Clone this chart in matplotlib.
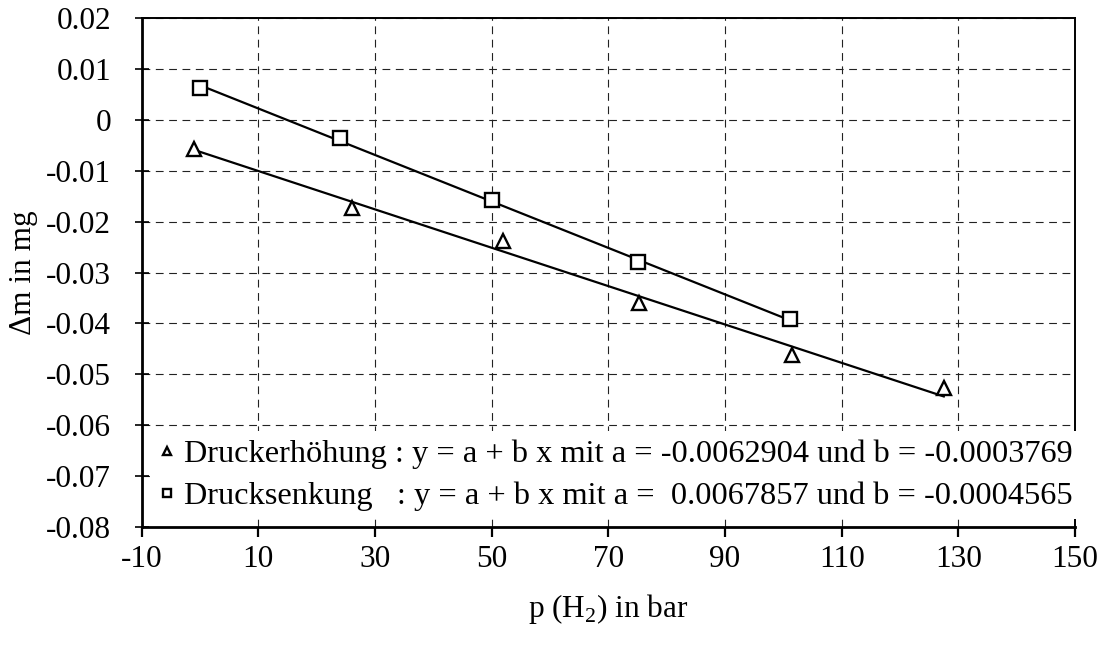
import numpy as np
import matplotlib
matplotlib.use('Agg')
from matplotlib import pyplot as plt

plt.rcParams['font.family'] = ['Liberation Serif', 'DejaVu Serif']
plt.rcParams['mathtext.fontset'] = 'custom'
plt.rcParams['mathtext.rm'] = 'Liberation Serif'

p_hoch = [-1.0, 26.0, 52.0, 75.3, 101.4, 127.5]
dm_hoch = [-0.0058, -0.0173, -0.0239, -0.0360, -0.0463, -0.0527]
p_senk = [0.0, 24.0, 50.0, 75.0, 101.2]
dm_senk = [0.0063, -0.0035, -0.0157, -0.0280, -0.0392]

# fit parameters from the legend
a_hoch, b_hoch = -0.0062904, -0.0003769
a_senk, b_senk = 0.0067857, -0.0004565

xticks = [-10, 10, 30, 50, 70, 90, 110, 130, 150]
yticks = [0.02, 0.01, 0, -0.01, -0.02, -0.03, -0.04, -0.05, -0.06, -0.07, -0.08]
ytick_labels = ['0.02', '0.01', '0', '-0.01', '-0.02', '-0.03', '-0.04',
                '-0.05', '-0.06', '-0.07', '-0.08']

fig = plt.figure(figsize=(11.01, 6.5), dpi=100)
ax = fig.add_axes([0.1287, 0.1892, 0.9764 - 0.1287, 0.9723 - 0.1892])

# fit lines over the measured range
xh = np.array([min(p_hoch), max(p_hoch)])
xs = np.array([min(p_senk), max(p_senk)])
ax.plot(xh, a_hoch + b_hoch * xh, color='black', lw=1.6, zorder=3)
ax.plot(xs, a_senk + b_senk * xs, color='black', lw=1.6, zorder=3)

h1, = ax.plot(p_hoch, dm_hoch, ls='none', marker='^', ms=10, mfc='white',
              mec='black', mew=1.7, zorder=4)
h2, = ax.plot(p_senk, dm_senk, ls='none', marker='s', ms=9.5, mfc='white',
              mec='black', mew=1.7, zorder=4)

ax.set_xlim(-10, 150)
ax.set_ylim(-0.08, 0.02)
ax.set_xticks(xticks)
ax.set_xticklabels([str(t) for t in xticks])
ax.set_yticks(yticks)
ax.set_yticklabels(ytick_labels)

ax.grid(True, color='#222222', ls=(0, (7, 5)), lw=0.8)
ax.set_axisbelow(True)

for s in ['left', 'bottom']:
    ax.spines[s].set_linewidth(2.0)
for s in ['top', 'right']:
    ax.spines[s].set_linewidth(1.4)

ax.tick_params(axis='x', direction='out', length=7, width=1.6, pad=6, labelsize=22.5)
ax.tick_params(axis='y', direction='inout', length=10, width=1.2, pad=17, labelsize=22.5)

ax.set_xlabel('p (H$_2$) in bar', fontsize=22.5, labelpad=13)
ax.set_ylabel('\u0394m in mg', fontsize=22.5, labelpad=6)

labels = ['Druckerh\u00f6hung : y = a + b x mit a = -0.0062904 und b = -0.0003769',
          'Drucksenkung   : y = a + b x mit a =  0.0067857 und b = -0.0004565']
leg = ax.legend([h1, h2], labels, loc='lower left', fontsize=23.3,
                markerscale=0.55, handlelength=0.55, handletextpad=0.25,
                borderaxespad=0.25, borderpad=0.25, labelspacing=0.38,
                frameon=True, fancybox=False, framealpha=1,
                facecolor='white', edgecolor='none')
leg.set_zorder(5)

plt.savefig('out.png', dpi=100)
